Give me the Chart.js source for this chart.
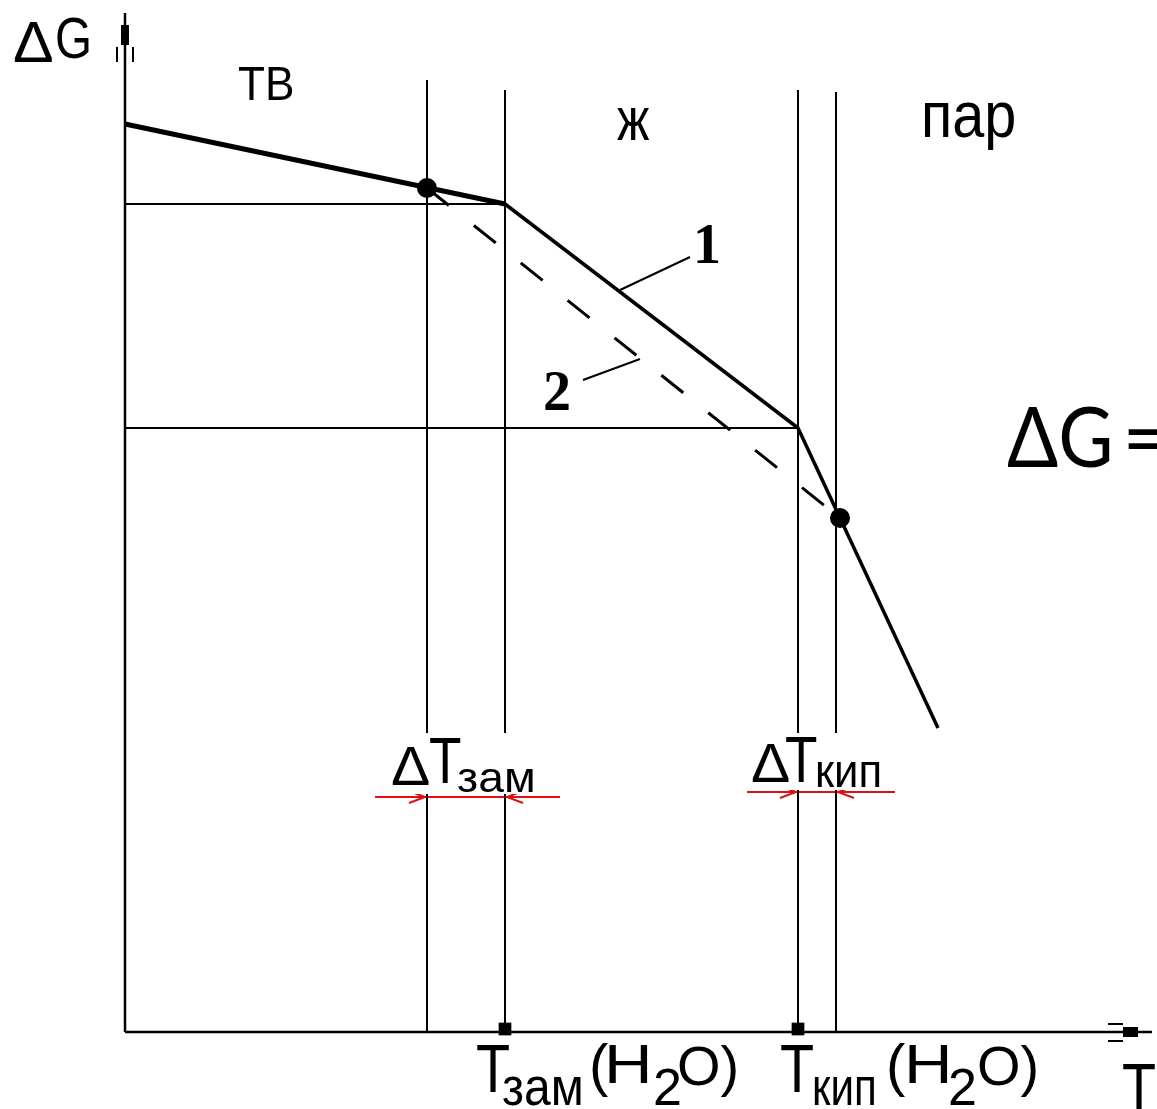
<!DOCTYPE html>
<html lang="ru">
<head>
<meta charset="utf-8">
<title>ΔG(T): вода и раствор</title>
<script src="https://cdn.jsdelivr.net/npm/chart.js@4.4.1/dist/chart.umd.min.js"></script>
<style>
  html, body { margin: 0; padding: 0; background: #ffffff; }
  #wrap { width: 1157px; height: 1109px; position: relative; }
</style>
</head>
<body>
<div id="wrap"><canvas id="chart"></canvas></div>
<script>
// Temperatures of the phase boundaries: solution freezing, water freezing,
// water boiling, solution boiling (arbitrary units along T)
const boundaryT   = [30.2, 38.0, 67.3, 71.1];
const boundaryTop = [95.2, 94.2, 94.2, 94.0];

// ΔG levels of pure water at its freezing and boiling points
const levelG    = [82.8, 60.4];
const levelEndT = [38.0, 67.3];

// Curve 1 – pure water (solid → liquid → vapour)
const curve1T = [0, 38.0, 67.3, 71.5, 81.3];
const curve1G = [90.8, 82.8, 60.4, 51.4, 30.4];

// Curve 2 – solution (liquid branch, dashed)
const curve2T = [30.2, 71.5];
const curve2G = [84.4, 51.4];

// Crossing points of curve 2 with curve 1
const crossT = [30.2, 71.5];
const crossG = [84.4, 51.4];

// Marked temperatures on the T axis: Tзам(H2O), Tкип(H2O)
const axisMarkT = [38.0, 67.3];

// Axis extents
const axisMaxT = 102.7;
const axisMaxG = 101.9;

// ΔT brackets (level, from, to)
const dFreeze = { g: 23.5, from: 25.0, to: 43.5 };
const dBoil   = { g: 24.0, from: 62.2, to: 77.0 };

const SANS  = '"Liberation Sans", Arial, sans-serif';
const SERIF = '"Liberation Serif", "Times New Roman", serif';
const CAL   = 'Lato, "Noto Sans", sans-serif';

function seg(x0, y0, x1, y1) { return [{ x: x0, y: y0 }, { x: x1, y: y1 }]; }
function lineSet(data, width, color, extra) {
  return Object.assign({
    data, showLine: true, borderColor: color || '#000', borderWidth: width,
    pointRadius: 0, fill: false, clip: false, tension: 0
  }, extra || {});
}

const datasets = [];
// axes
datasets.push(lineSet(seg(0, 0, 0, axisMaxG), 2.5));
datasets.push(lineSet(seg(0, 0, axisMaxT, 0), 2.5));
// vertical boundaries
boundaryT.forEach((t, i) => datasets.push(lineSet(seg(t, 0, t, boundaryTop[i]), 2)));
// horizontal levels
levelG.forEach((g, i) => datasets.push(lineSet(seg(0, g, levelEndT[i], g), 2)));
// curve 1
datasets.push(lineSet(curve1T.map((t, i) => ({ x: t, y: curve1G[i] })), 3.5, '#000', {
  segment: { borderWidth: c => (c.p0DataIndex === 0 ? 5 : 3.5) },
  borderJoinStyle: 'round'
}));
// curve 2
datasets.push(lineSet(curve2T.map((t, i) => ({ x: t, y: curve2G[i] })), 3, '#000', {
  borderDash: [28, 32]
}));
// leader lines for the curve numbers
datasets.push(lineSet(seg(49.5, 74.2, 56.5, 77.5), 2));
datasets.push(lineSet(seg(45.8, 65.2, 51.5, 67.3), 2));
// red ΔT brackets
datasets.push(lineSet(seg(dFreeze.from, dFreeze.g, dFreeze.to, dFreeze.g), 2, '#e01010'));
datasets.push(lineSet(seg(dBoil.from, dBoil.g, dBoil.to, dBoil.g), 2, '#e01010'));
// crossing points
datasets.push({
  data: crossT.map((t, i) => ({ x: t, y: crossG[i] })), showLine: false,
  pointRadius: 10, pointBackgroundColor: '#000', pointBorderWidth: 0, clip: false
});
// axis marks
datasets.push({
  data: axisMarkT.map(t => ({ x: t, y: 0.3 })), showLine: false,
  pointStyle: 'rect', pointRadius: 9, pointBackgroundColor: '#000', pointBorderWidth: 0, clip: false
});

// Text pieces placed in T/ΔG units (x = left edge, y = baseline)
const texts = [
  { t: 'Δ',   x: -11.2, y: 97.0, f: '58px ' + SANS, s: 1.05 },
  { t: 'G',   x: -7.0,  y: 97.4, f: '58px ' + SANS, s: 0.82 },
  { t: 'ТВ',  x: 11.3,  y: 93.2, f: '49px ' + SANS, s: 0.9 },
  { t: 'ж',   x: 49.2,  y: 89.2, f: '62px ' + SANS, s: 0.78 },
  { t: 'пар', x: 79.6,  y: 89.5, f: '64px ' + SANS, s: 0.9 },
  { t: '1',   x: 56.8,  y: 76.9, f: 'bold 56px ' + SERIF, s: 1 },
  { t: '2',   x: 41.8,  y: 62.2, f: 'bold 56px ' + SERIF, s: 1 },
  { t: 'ΔG',  x: 88.2, y: 56.5, f: '84px ' + CAL, s: 0.9 },
  { t: '=',   x: 99.8, y: 56.5, f: '84px ' + CAL, s: 0.9 },
  // ΔTзам
  { t: 'Δ',   x: 26.6, y: 24.7, f: '56px ' + SANS, s: 1.05 },
  { t: 'T',   x: 30.4, y: 24.9, f: '64px ' + SANS, s: 0.83 },
  { t: 'зам', x: 33.2, y: 24.0, f: '42px ' + SANS, s: 1.1 },
  // ΔTкип
  { t: 'Δ',   x: 62.6, y: 25.0, f: '56px ' + SANS, s: 1.05 },
  { t: 'T',   x: 66.0, y: 25.0, f: '64px ' + SANS, s: 0.83 },
  { t: 'кип', x: 69.0, y: 24.5, f: '46px ' + SANS, s: 0.95 },
  // Tзам(H2O)
  { t: 'T',   x: 35.1, y: -6.0, f: '68px ' + SANS, s: 0.82 },
  { t: 'зам', x: 37.7, y: -7.3, f: '54px ' + SANS, s: 0.89 },
  { t: '(',   x: 46.4, y: -5.3, f: '58px ' + SANS, s: 1 },
  { t: 'H',   x: 47.9, y: -5.1, f: '56px ' + SANS, s: 1.2 },
  { t: '2',   x: 52.8, y: -7.3, f: '52px ' + SANS, s: 1 },
  { t: 'O)',  x: 55.2, y: -5.3, f: '56px ' + SANS, s: 1 },
  // Tкип(H2O)
  { t: 'T',   x: 65.5, y: -6.0, f: '68px ' + SANS, s: 0.82 },
  { t: 'кип', x: 68.7, y: -7.3, f: '54px ' + SANS, s: 0.78 },
  { t: '(',   x: 76.1, y: -5.3, f: '58px ' + SANS, s: 1 },
  { t: 'H',   x: 77.9, y: -5.1, f: '56px ' + SANS, s: 1.2 },
  { t: '2',   x: 82.3, y: -7.3, f: '52px ' + SANS, s: 1 },
  { t: 'O)',  x: 85.2, y: -5.3, f: '56px ' + SANS, s: 1 },
  // T axis title
  { t: 'T',   x: 99.7, y: -7.9, f: '68px ' + SANS, s: 0.82 }
];

// White patches behind the ΔT labels (left, top, right, bottom in units)
const labelPatches = [
  { x0: 26.3, y0: 29.9, x1: 41.5, y1: 23.8 },
  { x0: 62.3, y0: 29.9, x1: 76.5, y1: 24.2 }
];

const diagramPlugin = {
  id: 'diagramDecor',
  afterDatasetsDraw(chart) {
    const ctx = chart.ctx;
    const xs = chart.scales.x, ys = chart.scales.y;
    const px = v => xs.getPixelForValue(v);
    const py = v => ys.getPixelForValue(v);

    ctx.save();
    // axis arrowheads
    ctx.fillStyle = '#000';
    ctx.strokeStyle = '#000';
    ctx.lineWidth = 2;
    const ax = px(0), ayTop = py(axisMaxG);
    ctx.fillRect(ax - 4, ayTop + 12, 8, 20);
    ctx.beginPath();
    ctx.moveTo(ax - 8, ayTop + 34); ctx.lineTo(ax - 8, ayTop + 49);
    ctx.moveTo(ax + 8, ayTop + 34); ctx.lineTo(ax + 8, ayTop + 49);
    ctx.stroke();
    const bx = px(axisMaxT), by = py(0);
    ctx.fillRect(bx - 29, by - 5, 15, 10);
    ctx.beginPath();
    ctx.moveTo(bx - 29, by - 8); ctx.lineTo(bx - 44, by - 8);
    ctx.moveTo(bx - 29, by + 9); ctx.lineTo(bx - 44, by + 9);
    ctx.stroke();

    // red arrow tips pointing at the boundaries
    ctx.strokeStyle = '#e01010';
    ctx.lineWidth = 2;
    const tip = (x, y, dir) => {
      ctx.beginPath();
      ctx.moveTo(x - dir * 16, y - 6);
      ctx.lineTo(x, y);
      ctx.lineTo(x - dir * 16, y + 6);
      ctx.stroke();
    };
    tip(px(boundaryT[0]) - 2, py(dFreeze.g), 1);
    tip(px(boundaryT[1]) + 2, py(dFreeze.g), -1);
    tip(px(boundaryT[2]) - 2, py(dBoil.g), 1);
    tip(px(boundaryT[3]) + 2, py(dBoil.g), -1);

    // white patches behind ΔT labels
    ctx.fillStyle = '#fff';
    labelPatches.forEach(p => {
      ctx.fillRect(px(p.x0), py(p.y0), px(p.x1) - px(p.x0), py(p.y1) - py(p.y0));
    });

    // text
    ctx.fillStyle = '#000';
    ctx.textBaseline = 'alphabetic';
    ctx.textAlign = 'left';
    texts.forEach(it => {
      ctx.save();
      ctx.translate(px(it.x), py(it.y));
      ctx.scale(it.s, 1);
      ctx.font = it.f;
      ctx.fillText(it.t, 0, 0);
      ctx.restore();
    });
    ctx.restore();
  }
};

new Chart(document.getElementById('chart'), {
  type: 'scatter',
  data: { datasets },
  options: {
    responsive: true,
    maintainAspectRatio: false,
    animation: false,
    events: [],
    layout: { padding: 0, autoPadding: false },
    plugins: { legend: { display: false }, tooltip: { enabled: false }, title: { display: false } },
    scales: {
      x: { type: 'linear', min: -12.5, max: 103.2, display: false },
      y: { type: 'linear', min: -7.7, max: 103.2, display: false }
    }
  },
  plugins: [diagramPlugin]
});
</script>
</body>
</html>
